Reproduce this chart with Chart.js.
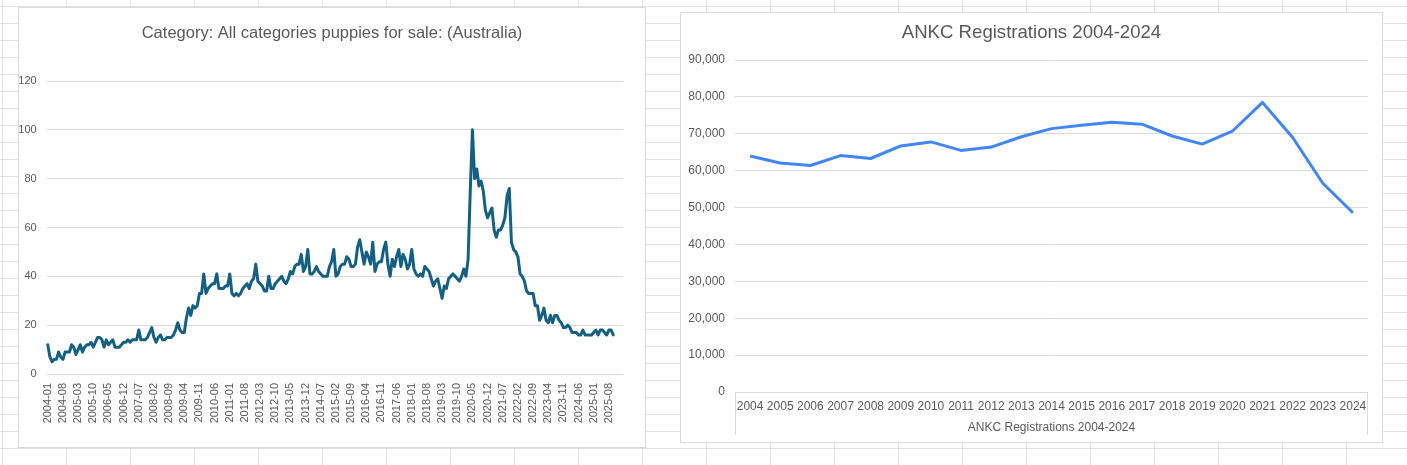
<!DOCTYPE html>
<html>
<head>
<meta charset="utf-8">
<script src="https://cdn.jsdelivr.net/npm/chart.js@4.4.1/dist/chart.umd.min.js"></script>
<style>
html,body{margin:0;padding:0;width:1407px;height:465px;overflow:hidden;}
body{
  background-color:#fff;
  background-image:linear-gradient(to right,#e1e1e1 1px,transparent 1px),linear-gradient(to bottom,#e1e1e1 1px,transparent 1px);
  background-size:64px 17px;
  background-position:2px 6px;
}
.box{position:absolute;background:#fff;border:1px solid #d9d9d9;box-sizing:border-box;}
#b1{left:18px;top:7px;width:628px;height:441px;}
#b2{left:680px;top:12px;width:703px;height:431px;}
.box canvas{position:absolute;left:0;top:0;}
</style>
</head>
<body>
<div class="box" id="b1"><canvas id="c1" width="626" height="439"></canvas></div>
<div class="box" id="b2"><canvas id="c2" width="701" height="429"></canvas></div>
<script>
// ---------- Left chart data (monthly interest, 2004-01 .. 2025-10) ----------
const puppyTitle = 'Category: All categories puppies for sale: (Australia)';
const monthStartYear = 2004;
const monthStartMonth = 1;
const monthCategoryCount = 266;   // axis runs to 2026-02 (last months empty)
const tickEvery = 7;
const puppyInterest = [
  12, 7, 5, 6, 6, 9, 7, 6, 9, 9, 9, 12,          // 2004
  11, 8, 10, 12, 9, 11, 12, 12, 13, 11, 13, 15,  // 2005
  15, 14, 11, 14, 12, 13, 14, 11, 11, 11, 12, 13,// 2006
  13, 14, 13, 14, 14, 14, 18, 14, 14, 14, 15, 17,// 2007
  19, 15, 13, 15, 16, 14, 14, 15, 15, 15, 16, 18,// 2008
  21, 18, 17, 17, 23, 27, 24, 28, 27, 28, 33, 33,// 2009
  41, 33, 35, 36, 37, 37, 41, 35, 35, 35, 36, 36,// 2010
  41, 33, 32, 33, 32, 33, 35, 36, 37, 35, 38, 39,// 2011
  45, 38, 37, 36, 34, 34, 40, 35, 35, 37, 38, 39,// 2012
  40, 38, 37, 39, 42, 41, 44, 45, 45, 49, 42, 44,// 2013
  51, 41, 41, 42, 44, 42, 41, 40, 40, 40, 44, 46,// 2014
  51, 40, 41, 44, 45, 45, 48, 47, 44, 44, 45, 52,// 2015
  55, 50, 45, 50, 48, 45, 54, 42, 45, 46, 46, 51,// 2016
  54, 45, 40, 47, 44, 48, 51, 44, 49, 47, 43, 45,// 2017
  51, 43, 41, 40, 41, 40, 44, 43, 42, 39, 36, 38,// 2018
  39, 35, 31, 36, 35, 39, 40, 41, 40, 39, 38, 40,// 2019
  43, 40, 47, 75, 100, 80, 84, 77, 79, 75, 67, 64,// 2020
  66, 68, 59, 56, 59, 59, 61, 64, 73, 76, 54, 51,// 2021
  50, 48, 41, 40, 38, 34, 33, 33, 33, 28, 28, 22,// 2022
  24, 27, 22, 21, 24, 21, 24, 24, 22, 21, 19, 19,// 2023
  20, 19, 17, 17, 17, 16, 16, 18, 16, 16, 16, 16,// 2024
  17, 18, 16, 18, 18, 17, 16, 18, 18, 16         // 2025
];
const puppyYTicks = {min: 0, max: 120, step: 20};

const monthLabels = [];
for (let k = 0; k < monthCategoryCount; k++) {
  const m = monthStartMonth - 1 + k;
  monthLabels.push((monthStartYear + Math.floor(m / 12)) + '-' + String(m % 12 + 1).padStart(2, '0'));
}

// ---------- Right chart data ----------
const ankcTitle = 'ANKC Registrations 2004-2024';
const ankcYears = ['2004','2005','2006','2007','2008','2009','2010','2011','2012','2013','2014',
                   '2015','2016','2017','2018','2019','2020','2021','2022','2023','2024'];
const ankcRegistrations = [64000, 62100, 61400, 64100, 63300, 66700, 67800, 65500, 66400, 69200, 71400,
                           72300, 73100, 72600, 69400, 67200, 70700, 78500, 69000, 56600, 48600];
const ankcYTicks = {min: 0, max: 90000, step: 10000};

const GREY_TXT = '#595959';
const GRID = '#d9d9d9';

// empty right-hand spacer so the plot ends where the reference's does
function spacer(width) {
  return {
    position: 'right',
    display: true,
    grid: {display: false, drawTicks: false},
    border: {display: false},
    ticks: {display: false},
    afterFit: s => { s.width = width; }
  };
}

// ---------- Left chart ----------
new Chart(document.getElementById('c1'), {
  type: 'line',
  data: {
    labels: monthLabels,
    datasets: [{
      data: puppyInterest,
      borderColor: '#156082',
      backgroundColor: '#156082',
      borderWidth: 3,
      pointRadius: 0,
      tension: 0,
      fill: false,
      borderJoinStyle: 'round',
      borderCapStyle: 'round'
    }]
  },
  options: {
    responsive: false,
    animation: false,
    layout: {padding: 0},
    plugins: {
      legend: {display: false},
      tooltip: {enabled: false},
      title: {
        display: true,
        text: puppyTitle,
        color: GREY_TXT,
        font: {family: 'Liberation Sans', size: 16.5, weight: 'normal'},
        padding: {top: 15.1, bottom: 38.1}
      }
    },
    scales: {
      x: {
        type: 'category',
        offset: true,
        grid: {display: false, drawTicks: false},
        border: {display: false},
        ticks: {
          autoSkip: false,
          minRotation: 90,
          maxRotation: 90,
          padding: 9,
          color: GREY_TXT,
          font: {family: 'Liberation Sans', size: 11},
          callback: function (v, i) { return i % tickEvery === 0 ? this.getLabelForValue(v) : null; }
        },
        afterFit: s => { s.height = 73; }
      },
      y: {
        min: puppyYTicks.min,
        max: puppyYTicks.max,
        ticks: {stepSize: puppyYTicks.step, padding: 10, color: GREY_TXT, font: {family: 'Liberation Sans', size: 11}},
        grid: {color: GRID, drawTicks: false},
        border: {display: false},
        afterFit: s => { s.width = 27.7; }
      },
      yPad: spacer(22)
    }
  }
});

// ---------- Right chart ----------
const categoryBoxPlugin = {
  id: 'categoryBox',
  afterDraw(chart) {
    const {ctx, chartArea} = chart;
    ctx.save();
    ctx.strokeStyle = GRID;
    ctx.lineWidth = 1;
    ctx.beginPath();
    const l = Math.round(chartArea.left) + 0.5, r = Math.round(chartArea.right) - 0.5;
    const t = chartArea.bottom, b = chartArea.bottom + 43;
    ctx.moveTo(l, t); ctx.lineTo(l, b);
    ctx.moveTo(r, t); ctx.lineTo(r, b);
    ctx.stroke();
    ctx.restore();
  }
};

new Chart(document.getElementById('c2'), {
  type: 'line',
  data: {
    labels: ankcYears,
    datasets: [{
      data: ankcRegistrations,
      borderColor: '#4285f4',
      backgroundColor: '#4285f4',
      borderWidth: 3,
      pointRadius: 0,
      tension: 0,
      fill: false,
      borderJoinStyle: 'round'
    }]
  },
  options: {
    responsive: false,
    animation: false,
    layout: {padding: 0},
    plugins: {
      legend: {display: false},
      tooltip: {enabled: false},
      title: {
        display: true,
        text: ankcTitle,
        color: GREY_TXT,
        font: {family: 'Liberation Sans', size: 18.6, weight: 'normal'},
        padding: {top: 8.8, bottom: 15.9}
      }
    },
    scales: {
      x: {
        type: 'category',
        offset: true,
        grid: {display: false, drawTicks: false},
        border: {display: false},
        ticks: {
          autoSkip: false,
          maxRotation: 0,
          padding: 7,
          color: GREY_TXT,
          font: {family: 'Liberation Sans', size: 12}
        },
        title: {
          display: true,
          text: ankcTitle,
          color: GREY_TXT,
          font: {family: 'Liberation Sans', size: 12},
          padding: {top: 0, bottom: 7}
        },
        afterFit: s => { s.height = 50; }
      },
      y: {
        min: ankcYTicks.min,
        max: ankcYTicks.max,
        ticks: {
          stepSize: ankcYTicks.step,
          padding: 10,
          color: GREY_TXT,
          font: {family: 'Liberation Sans', size: 12},
          callback: v => Number(v).toLocaleString('en-US')
        },
        grid: {color: GRID, drawTicks: false},
        border: {display: false},
        afterFit: s => { s.width = 54; }
      },
      yPad: spacer(14)
    }
  },
  plugins: [categoryBoxPlugin]
});
</script>
</body>
</html>
